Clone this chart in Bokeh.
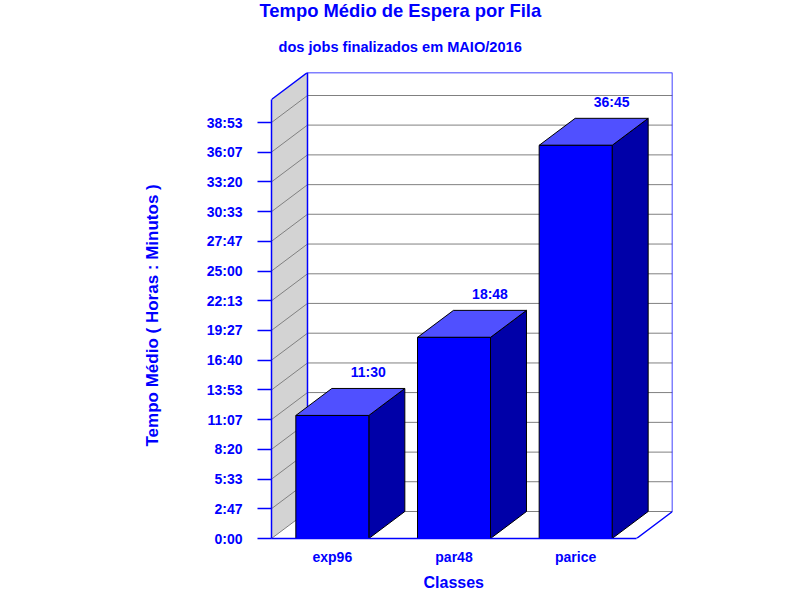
from bokeh.plotting import figure
from bokeh.models import Range1d, FixedTicker, Title
from bokeh.core.properties import value
from bokeh.embed import file_html
from bokeh.resources import INLINE

categories = ["exp96", "par48", "parice"]
bar_values = ["11:30", "18:48", "36:45"]
tick_labels = ["0:00", "2:47", "5:33", "8:20", "11:07", "13:53", "16:40", "19:27",
               "22:13", "25:00", "27:47", "30:33", "33:20", "36:07", "38:53"]

BLUE = "#0000ff"
FONT = "Liberation Sans"


def minutes(s):
    h, m = s.split(":")
    return int(h) * 60 + int(m)


ticks = [minutes(t) for t in tick_labels]
vals = [minutes(t) for t in bar_values]
ppm = 416 / 2333           # pixels per minute
dx = 36 / 121.67           # depth, in category units
dy = 27 / ppm              # depth, in minutes
xmax_front = 3
ytop_front = 439 / ppm
half = 0.3

p = figure(width=800, height=601, output_backend="svg", toolbar_location=None,
           x_range=Range1d(0, xmax_front + dx), y_range=Range1d(0, ytop_front + dy),
           min_border_left=271, min_border_right=128, min_border_top=73, min_border_bottom=62,
           outline_line_color=None)
p.styles = {"position": "absolute", "left": "0px", "top": "-1px"}
p.grid.visible = False

# walls
p.patch([0, dx, dx, 0], [0, dy, ytop_front + dy, ytop_front], fill_color="#d3d3d3", line_color=None)
p.segment([dx] * len(ticks), [t + dy for t in ticks], [xmax_front + dx] * len(ticks), [t + dy for t in ticks],
          line_color="#808080", line_width=1)
p.segment([0] * len(ticks), ticks, [dx] * len(ticks), [t + dy for t in ticks], line_color="#808080", line_width=1)
p.line([0, dx, xmax_front + dx, xmax_front + dx, xmax_front],
       [ytop_front, ytop_front + dy, ytop_front + dy, dy, 0], line_color=BLUE, line_width=1.5)
p.line([dx, dx], [dy, ytop_front + dy], line_color=BLUE, line_width=1.5)

# bars
centers = [i + 0.5 for i in range(len(categories))]
for c, v in zip(centers, vals):
    l, r = c - half, c + half
    p.patch([r, r + dx, r + dx, r], [0, dy, v + dy, v], fill_color="#0000a8", line_color="black")
    p.patch([l, l + dx, r + dx, r], [v, v + dy, v + dy, v], fill_color="#5050ff", line_color="black")
    p.patch([l, r, r, l], [0, 0, v, v], fill_color=BLUE, line_color="black")

p.text([c + dx for c in centers], [v + dy for v in vals], text=bar_values,
       text_font=value(FONT), text_font_style="bold", text_font_size="14px", text_color=BLUE,
       text_align="center", text_baseline="middle", y_offset=-16)

# axes
ax = p.yaxis[0]
ax.ticker = FixedTicker(ticks=ticks)
ax.major_label_overrides = dict(zip(ticks, tick_labels))
ax.bounds = (0, ytop_front)
ax.axis_line_color = BLUE
ax.axis_line_width = 1.5
ax.major_tick_line_color = BLUE
ax.major_tick_line_width = 1.5
ax.major_tick_out = 14
ax.major_tick_in = 0
ax.minor_tick_out = 0
ax.minor_tick_in = 0
ax.major_label_standoff = 15
ax.major_label_text_color = BLUE
ax.major_label_text_font = FONT
ax.major_label_text_font_style = "bold"
ax.major_label_text_font_size = "14px"

xa = p.xaxis[0]
xa.ticker = FixedTicker(ticks=centers)
xa.major_label_overrides = dict(zip(centers, categories))
xa.bounds = (0, xmax_front)
xa.axis_line_color = BLUE
xa.axis_line_width = 1.5
xa.major_tick_out = 0
xa.major_tick_in = 0
xa.minor_tick_out = 0
xa.minor_tick_in = 0
xa.major_label_standoff = 10
xa.major_label_text_color = BLUE
xa.major_label_text_font = FONT
xa.major_label_text_font_style = "bold"
xa.major_label_text_font_size = "14px"


def ttl(text, side, size, offset, standoff, valign="bottom"):
    p.add_layout(Title(text=text, text_color=BLUE, text_font=FONT, text_font_style="bold", text_font_size=size,
                       align="left", offset=offset, standoff=standoff, vertical_align=valign), side)


ttl("dos jobs finalizados em MAIO/2016", "above", "14.6px", 7, 32, "top")
ttl("Tempo Médio de Espera por Fila", "above", "18.4px", -12, 0, "top")
ttl("Classes", "below", "16px", 152, 8)
ttl("Tempo Médio ( Horas : Minutos )", "left", "17px", 92, 84)

open("out.html", "w").write(file_html(p, INLINE))
